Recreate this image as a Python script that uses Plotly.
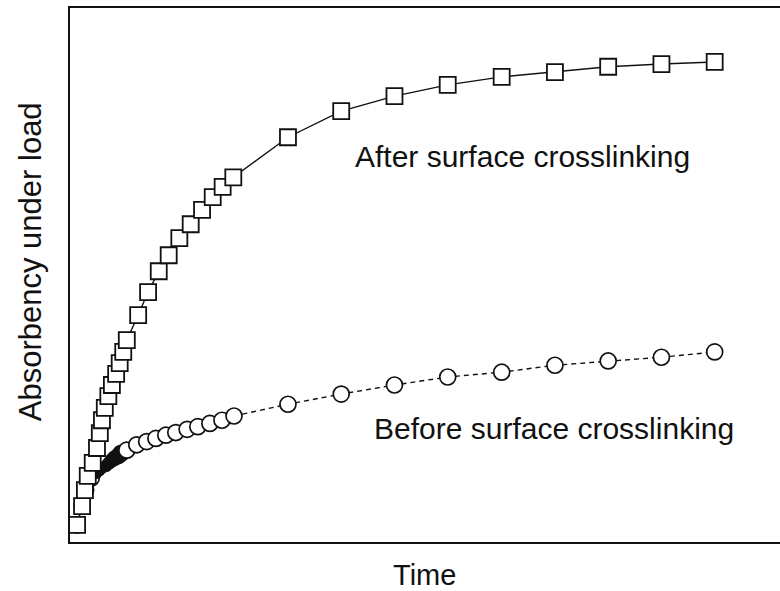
import plotly.graph_objects as go

# Absorbency under load vs. time (arbitrary units)
after_time = [1.0, 1.7, 2.1, 2.5, 3.2, 3.8, 4.2, 4.5, 4.9, 5.4, 5.9, 6.5, 7.0, 7.5, 8.0,
              9.6, 11.0, 12.5, 13.9, 15.4, 17.0, 18.6, 20.1, 21.5, 23.0,
              30.7, 38.2, 45.7, 53.2, 60.8, 68.3, 75.8, 83.3, 90.8]
after_aul = [3.2, 6.7, 9.7, 12.4, 14.8, 17.6, 20.4, 22.8, 25.1, 27.3, 29.4, 31.5, 33.5, 35.6, 37.8,
             42.5, 46.8, 50.7, 53.7, 56.9, 59.5, 62.2, 64.6, 66.5, 68.3,
             75.8, 80.7, 83.5, 85.6, 87.1, 88.0, 89.0, 89.5, 89.9]

before_time = [1.0, 1.7, 2.2, 3.0,
               3.8, 4.2, 4.6, 5.1, 5.5, 5.9, 6.3, 6.8, 7.2,
               8.0, 9.4, 10.8, 12.1, 13.5, 14.9, 16.5, 18.0, 19.7, 21.4, 23.1,
               30.7, 38.2, 45.7, 53.2, 60.8, 68.3, 75.8, 83.3, 90.8]
before_aul = [3.2, 6.7, 9.7, 12.0,
              12.7, 13.3, 13.9, 14.3, 14.8, 15.3, 15.7, 16.1, 16.6,
              17.2, 18.2, 18.8, 19.4, 20.0, 20.5, 21.1, 21.6, 22.2, 22.8, 23.6,
              25.8, 27.7, 29.4, 30.9, 31.8, 33.1, 33.9, 34.6, 35.6]

# Early readings are so closely spaced that the markers merge into a solid wedge
DENSE_START, DENSE_END = 4, 13
before_fill = []
before_size = []
for i in range(len(before_time)):
    if DENSE_START <= i < DENSE_END:
        before_fill.append("#111")
        before_size.append(8 + (i - DENSE_START) * 1.0)
    else:
        before_fill.append("white")
        before_size.append(16)

fig = go.Figure()

fig.add_trace(go.Scatter(
    x=before_time, y=before_aul, mode="lines+markers",
    line=dict(color="#111", width=1.4, dash="5px,4px"),
    marker=dict(symbol="circle", size=before_size, color=before_fill, opacity=1,
                line=dict(color="#111", width=1.7)),
    showlegend=False, cliponaxis=False,
))

fig.add_trace(go.Scatter(
    x=after_time, y=after_aul, mode="lines+markers",
    line=dict(color="#111", width=1.4),
    marker=dict(symbol="square", size=16, color="white", opacity=1,
                line=dict(color="#111", width=1.8)),
    showlegend=False, cliponaxis=False,
))

label_font = dict(size=30, color="#111")
fig.add_annotation(x=63.7, y=72.1, xref="x", yref="y", text="After surface crosslinking",
                   showarrow=False, font=label_font, xanchor="center", yanchor="middle")
fig.add_annotation(x=68.2, y=21.3, xref="x", yref="y", text="Before surface crosslinking",
                   showarrow=False, font=label_font, xanchor="center", yanchor="middle")

fig.add_annotation(x=0.4986, y=-0.0618, xref="paper", yref="paper", text="Time",
                   showarrow=False, font=dict(size=29, color="#111"),
                   xanchor="center", yanchor="middle", borderpad=0)
fig.add_annotation(x=-0.0563, y=0.524, xref="paper", yref="paper", text="Absorbency under load",
                   showarrow=False, textangle=-90, font=dict(size=31, color="#111"),
                   xanchor="center", yanchor="middle")

fig.update_xaxes(range=[0, 100], showline=True, mirror=True, linecolor="#111", linewidth=1.6,
                 showticklabels=False, ticks="", showgrid=False, zeroline=False)
fig.update_yaxes(range=[0, 100], showline=True, mirror=False, linecolor="#111", linewidth=1.6,
                 showticklabels=False, ticks="", showgrid=False, zeroline=False)

fig.update_layout(
    width=780, height=591,
    margin=dict(l=70, r=0, t=8, b=49),
    paper_bgcolor="white", plot_bgcolor="white",
    font=dict(family="Liberation Sans, Arial, sans-serif", color="#111"),
)

fig.write_html("out.html")
